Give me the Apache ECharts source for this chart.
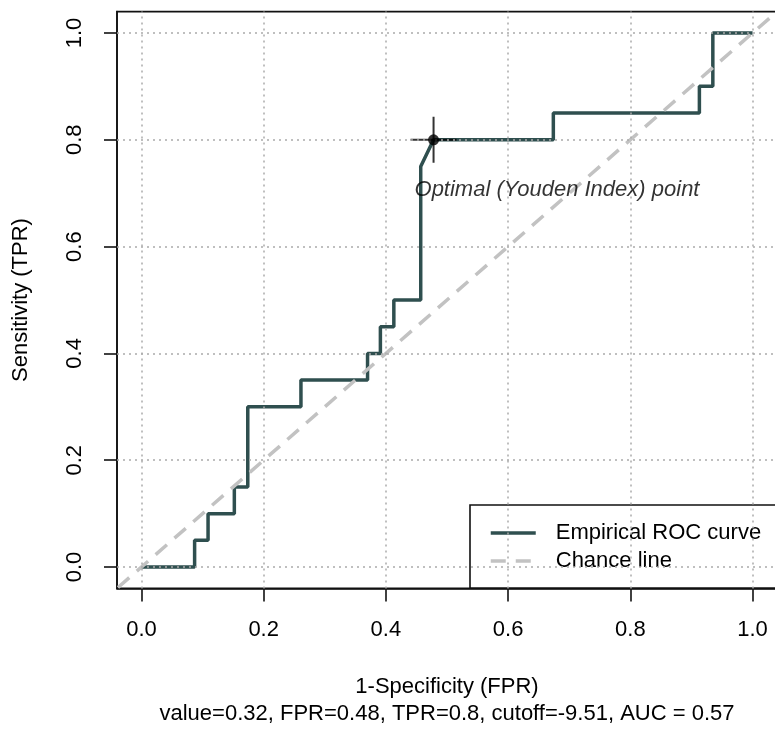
<!DOCTYPE html>
<html>
<head>
<meta charset="utf-8">
<script src="https://cdn.jsdelivr.net/npm/echarts@6/dist/echarts.min.js"></script>
<style>html,body{margin:0;padding:0;background:#fff;}#c{width:775px;height:729px;}</style>
</head>
<body>
<div id="c"></div>
<script>
// ---- data ----
var fpr = [0, 0.087, 0.087, 0.109, 0.109, 0.152, 0.152, 0.174, 0.174, 0.261, 0.261, 0.370, 0.370, 0.391, 0.391, 0.413, 0.413, 0.457, 0.457, 0.478, 0.674, 0.674, 0.913, 0.913, 0.935, 0.935, 1.0];
var tpr = [0, 0, 0.05, 0.05, 0.10, 0.10, 0.15, 0.15, 0.30, 0.30, 0.35, 0.35, 0.40, 0.40, 0.45, 0.45, 0.50, 0.50, 0.75, 0.80, 0.80, 0.85, 0.85, 0.90, 0.90, 1.0, 1.0];
var chanceX = [-0.1, 1.1];
var optimalPoint = [0.478, 0.8];
var annotationPos = [0.68, 0.706];
var annotationText = 'Optimal (Youden Index) point';
var ticks = [0, 0.2, 0.4, 0.6, 0.8, 1.0];
var xTitle = '1-Specificity (FPR)';
var subTitle = 'value=0.32, FPR=0.48, TPR=0.8, cutoff=-9.51, AUC = 0.57';
var yTitle = 'Sensitivity (TPR)';
var legendNames = ['Empirical ROC curve', 'Chance line'];

var FONT = 'Liberation Sans';
var rocData = fpr.map(function (x, i) { return [x, tpr[i]]; });
var chanceData = chanceX.map(function (x) { return [x, x]; });
var gridLines = ticks.map(function (t) { return { xAxis: t }; })
  .concat(ticks.map(function (t) { return { yAxis: t }; }));

var chart = echarts.init(document.getElementById('c'), null, { renderer: 'canvas' });
var axisCommon = {
  type: 'value', min: -0.04, max: 1.04,
  splitLine: { show: false },
  axisLine: { show: true, onZero: false, lineStyle: { color: '#111', width: 1.6 } },
  axisTick: { show: true, customValues: ticks, length: 13, lineStyle: { color: '#111', width: 1.6 } },
  axisLabel: { customValues: ticks, fontFamily: FONT, fontSize: 22, color: '#000', margin: 31,
    formatter: function (v) { return v.toFixed(1); } },
  nameLocation: 'middle',
  nameTextStyle: { fontFamily: FONT, fontSize: 22, color: '#000' }
};
var option = {
  animation: false,
  backgroundColor: '#fff',
  grid: { left: 117, right: -2, top: 11.6, bottom: 140.6, show: true, borderColor: '#111', borderWidth: 1.6, containLabel: false, outerBoundsMode: 'none' },
  xAxis: Object.assign({}, axisCommon, {
    name: xTitle + '\n' + subTitle, nameGap: 85,
    nameTextStyle: { fontFamily: FONT, fontSize: 22, color: '#000', lineHeight: 27 }
  }),
  yAxis: Object.assign({}, axisCommon, {
    name: yTitle, nameGap: 85, nameRotate: 90,
    axisLabel: Object.assign({}, axisCommon.axisLabel, { rotate: 90 })
  }),
  legend: {
    data: legendNames, orient: 'vertical', left: 470, top: 505,
    padding: [17, 40, 16, 19], itemGap: 6, itemWidth: 45, itemHeight: 14,
    backgroundColor: '#fff', borderColor: '#111', borderWidth: 1.6, borderRadius: 0,
    itemStyle: { opacity: 0, color: 'transparent', borderWidth: 0 },
    lineStyle: { width: 3.5 },
    textStyle: { fontFamily: FONT, fontSize: 22, color: '#000', lineHeight: 22, padding: [0, 0, 0, 15] },
    selectedMode: false
  },
  series: [
    { name: legendNames[0], type: 'line', data: rocData, symbol: 'none', z: 2,
      lineStyle: { color: '#2F4F4F', width: 3.5 }, itemStyle: { color: '#2F4F4F' } },
    { name: legendNames[1], type: 'line', data: chanceData, symbol: 'none', z: 2,
      lineStyle: { color: '#c2c2c2', width: 3.5, type: [15, 10] }, itemStyle: { color: '#c2c2c2' } },
    { name: 'grid', type: 'line', data: [], z: 3, silent: true,
      markLine: { silent: true, symbol: 'none', label: { show: false },
        lineStyle: { color: '#aaaaaa', width: 1.5, type: [2, 4] }, data: gridLines } },
    { name: 'cross', type: 'scatter', data: [optimalPoint], z: 4, silent: true,
      symbol: 'path://M23,0L23,46M0,23L46,23', symbolSize: 46,
      itemStyle: { color: 'transparent', borderColor: '#000', borderWidth: 2 } },
    { name: 'optimal', type: 'scatter', data: [optimalPoint], z: 5, silent: true,
      symbol: 'circle', symbolSize: 11, itemStyle: { color: '#000' } },
    { name: 'annot', type: 'scatter', data: [annotationPos], z: 5, silent: true,
      symbolSize: 1, itemStyle: { color: 'transparent' },
      label: { show: true, position: 'inside', formatter: annotationText,
        fontFamily: FONT, fontStyle: 'italic', fontSize: 22, color: '#000' } }
  ]
};
chart.setOption(option);
</script>
</body>
</html>
